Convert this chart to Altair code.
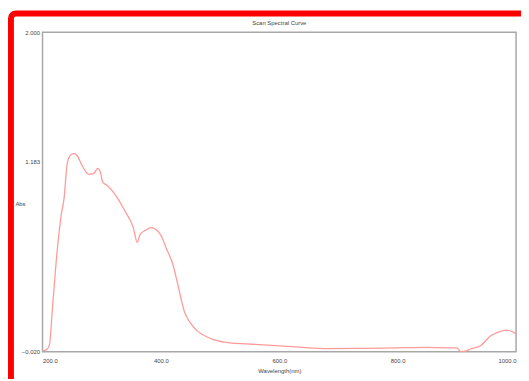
import altair as alt
import pandas as pd

title_text = "Scan Spectral Curve"

wavelength = [200, 206.7, 211.7, 216.7, 225, 231.7, 236.7, 241.7, 248.3, 253.3, 258.3,
              266.7, 278.3, 286.7, 293.3, 298.3, 301.7, 308.3, 323.3, 340, 353.3, 360,
              365, 373.3, 383.3, 391.7, 403.3, 408.3, 420, 428.3, 440, 450, 461.7, 475,
              490, 516.7, 545, 573.3, 628.3, 683.3, 740, 795, 850, 890, 900, 906.7, 915,
              923.3, 940, 956.7, 970, 983.3, 995, 1000]
absorbance = [-0.014, -0.006, 0.024, 0.254, 0.628, 0.847, 0.959, 1.171, 1.227, 1.233, 1.221,
              1.158, 1.102, 1.108, 1.140, 1.108, 1.052, 1.034, 0.971, 0.865, 0.765, 0.672,
              0.722, 0.747, 0.765, 0.753, 0.691, 0.641, 0.535, 0.410, 0.230, 0.161, 0.111, 0.080,
              0.055, 0.036, 0.030, 0.024, 0.011, 0.000, 0.002, 0.005, 0.008, 0.005, 0.005, -0.018, -0.015,
              -0.002, 0.018, 0.080, 0.105, 0.117, 0.105, 0.092]

x_ticks = [200, 400, 600, 800, 1000]
y_ticks = [-0.02, 1.183, 2.0]

df = pd.DataFrame({"wl": wavelength, "abs": absorbance})

curve = alt.Chart(df).mark_line(color="#ff9a9a", strokeWidth=1.3, interpolate="monotone").encode(
    x=alt.X("wl:Q", scale=alt.Scale(domain=[200, 1000], nice=False, zero=False),
            axis=alt.Axis(values=x_ticks, format=".1f", title="Wavelength(nm)",
                          grid=False, ticks=False, domain=False, labelPadding=6,
                          titlePadding=4)),
    y=alt.Y("abs:Q", scale=alt.Scale(domain=[-0.02, 2.0], nice=False, zero=False),
            axis=alt.Axis(values=y_ticks, format=".3f", title="Abs", grid=False,
                          ticks=False, domain=False, labelPadding=3,
                          titleAngle=0, titleAlign="left", titleBaseline="middle",
                          titleX=-28, titleY=174)),
)

title = alt.Chart(pd.DataFrame({"t": [title_text]})).mark_text(
    fontSize=6, color="#444", font="Liberation Sans", baseline="middle", align="center"
).encode(text="t:N", x=alt.value(240), y=alt.value(-9))

frame = alt.Chart(pd.DataFrame({"a": [0]})).mark_rect(
    fill=None, stroke="#ff0000", strokeWidth=6, cornerRadius=5
).encode(x=alt.value(-32), x2=alt.value(700), y=alt.value(-19), y2=alt.value(700))

chart = alt.layer(curve, title, frame).properties(
    width=480, height=324,
    background="white",
    autosize=alt.AutoSizeParams(type="none"),
    padding={"left": 35, "top": 22, "right": 5, "bottom": 25},
).configure_view(stroke="#a8a8a8", strokeWidth=1.5).configure_axis(
    labelFontSize=6, titleFontSize=6, labelColor="#444", titleColor="#444",
    labelFont="Liberation Sans", titleFont="Liberation Sans", titleFontWeight="normal"
)

chart.save("out.html", embed_options={"renderer": "svg", "actions": False})
